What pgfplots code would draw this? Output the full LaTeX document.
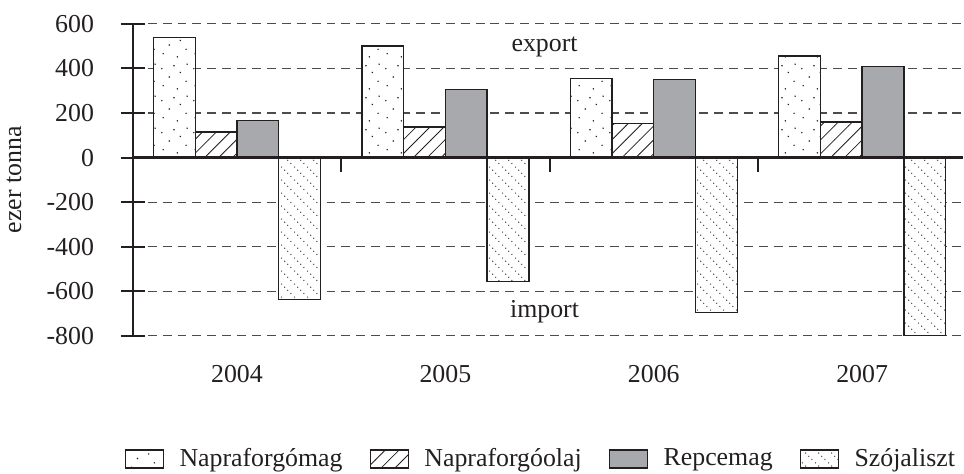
\documentclass[border=0pt]{standalone}
\usepackage{fontspec}
\setmainfont{Liberation Serif}
\usepackage{pgfplots}
\pgfplotsset{compat=1.18}
\usetikzlibrary{patterns}
\definecolor{ink}{RGB}{35,31,32}
\definecolor{repce}{RGB}{167,169,172}
\newcommand\ff{\rmfamily\fontsize{13}{15.6}\selectfont}

\pgfdeclarepatternformonly{sparsedots}{\pgfpointorigin}{\pgfqpoint{16pt}{16pt}}{\pgfqpoint{16pt}{16pt}}{%
 \pgfpathcircle{\pgfqpoint{2.1pt}{3.2pt}}{0.4pt}
 \pgfpathcircle{\pgfqpoint{9.3pt}{1.6pt}}{0.4pt}
 \pgfpathcircle{\pgfqpoint{13.7pt}{5.4pt}}{0.4pt}
 \pgfpathcircle{\pgfqpoint{5.2pt}{7.6pt}}{0.4pt}
 \pgfpathcircle{\pgfqpoint{10.8pt}{9.9pt}}{0.4pt}
 \pgfpathcircle{\pgfqpoint{1.4pt}{11.8pt}}{0.4pt}
 \pgfpathcircle{\pgfqpoint{7.6pt}{13.3pt}}{0.4pt}
 \pgfpathcircle{\pgfqpoint{14.2pt}{14.1pt}}{0.4pt}
 \pgfusepath{fill}
}
\pgfdeclarepatternformonly{dotdiag}{\pgfpointorigin}{\pgfqpoint{6.4pt}{6.4pt}}{\pgfqpoint{6.4pt}{6.4pt}}{%
 \pgfpathcircle{\pgfqpoint{0.8pt}{5.6pt}}{0.33pt}
 \pgfpathcircle{\pgfqpoint{2.4pt}{4.0pt}}{0.33pt}
 \pgfpathcircle{\pgfqpoint{4.0pt}{2.4pt}}{0.33pt}
 \pgfpathcircle{\pgfqpoint{5.6pt}{0.8pt}}{0.33pt}
 \pgfusepath{fill}
}
\pgfdeclarepatternformonly{nelines}{\pgfqpoint{-1pt}{-1pt}}{\pgfqpoint{8pt}{8pt}}{\pgfqpoint{7pt}{7pt}}{%
 \pgfsetlinewidth{0.4pt}
 \pgfpathmoveto{\pgfqpoint{-0.1pt}{-0.1pt}}
 \pgfpathlineto{\pgfqpoint{7.1pt}{7.1pt}}
 \pgfusepath{stroke}
}

\begin{document}
\begin{tikzpicture}
\begin{axis}[
 scale only axis, width=418pt, height=157pt,
 xmin=-0.5, xmax=3.486, ymin=-800, ymax=600,
 ybar=0pt, bar width=21pt,
 axis y line*=left, axis x line*=bottom,
 x axis line style={draw=none},
 y axis line style={line width=1pt, color=ink},
 xtick={0,1,2,3}, xticklabels={2004,2005,2006,2007},
 xtick style={draw=none},
 xticklabel style={yshift=-5.5pt},
 ytick={-800,-600,-400,-200,0,200,400,600},
 yticklabels={-800,-600,-400,-200,0,200,400,600},
 yticklabel style={xshift=-10pt},
 ytick style={line width=1pt, color=ink},
 tick align=center, major tick length=12pt,
 ymajorgrids, grid style={dash pattern=on 4.5pt off 3pt, line width=0.6pt, color=black!70},
 tick label style={font=\ff, color=ink},
 ylabel={ezer tonna}, ylabel style={font=\ff, color=ink, at={(axis description cs:-0.143,0.5)}, anchor=center},
 legend style={at={(-0.038,-0.395)}, anchor=west, legend columns=4, draw=none, fill=none, inner sep=0pt, font=\ff, text=ink,
   /tikz/every odd column/.append style={column sep=5.8pt}},
 legend image code/.code={\draw[opacity=0, line width=0.1pt] (0pt,-4.5pt) -- (0pt,4.5pt);\draw[#1, line width=0.7pt] (12pt,-4.5pt) rectangle (31pt,4.5pt);},
]
\addplot[draw=ink, line width=0.7pt, fill=white, postaction={pattern=sparsedots, pattern color=ink}]
 coordinates {(0,540) (1,500) (2,355) (3,455)};
\addplot[draw=ink, line width=0.7pt, fill=white, postaction={pattern=nelines, pattern color=ink}]
 coordinates {(0,115) (1,137) (2,152) (3,160)};
\addplot[draw=ink, line width=0.7pt, fill=repce]
 coordinates {(0,165) (1,305) (2,350) (3,408)};
\addplot[draw=ink, line width=0.7pt, fill=white, postaction={pattern=dotdiag, pattern color=ink}]
 coordinates {(0,-638) (1,-556) (2,-695) (3,-800)};
\legend{Napraforgómag, Napraforgóolaj, Repcemag, Szójaliszt}
\draw[line width=1.2pt, ink] (axis cs:-0.5,0) -- (axis cs:3.486,0);
\draw[line width=1pt, ink] (axis cs:0.5,0) -- (axis cs:0.5,-67);
\draw[line width=1pt, ink] (axis cs:1.5,0) -- (axis cs:1.5,-67);
\draw[line width=1pt, ink] (axis cs:2.5,0) -- (axis cs:2.5,-67);
\node[font=\ff, text=ink] at (axis cs:1.476,495) {export};
\node[font=\ff, text=ink] at (axis cs:1.476,-690) {import};
\end{axis}
\path ([yshift=12pt]current axis.north west);
\end{tikzpicture}
\end{document}
